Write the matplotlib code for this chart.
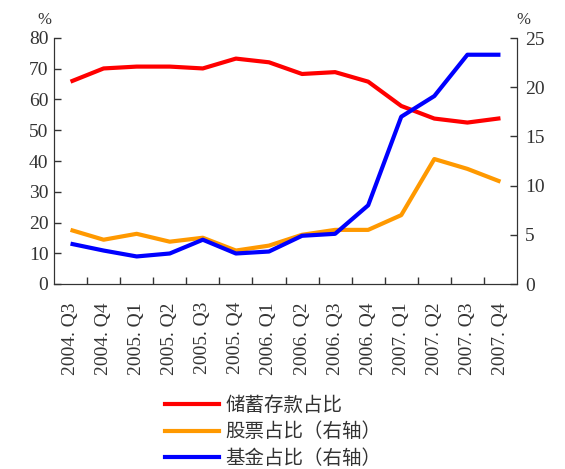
import matplotlib
matplotlib.use("Agg")
import matplotlib.pyplot as plt
from matplotlib.lines import Line2D

quarters = ["2004. Q3", "2004. Q4", "2005. Q1", "2005. Q2", "2005. Q3", "2005. Q4", "2006. Q1",
            "2006. Q2", "2006. Q3", "2006. Q4", "2007. Q1", "2007. Q2", "2007. Q3", "2007. Q4"]
savings = [65.8, 70.1, 70.7, 70.7, 70.1, 73.3, 72.1, 68.3, 68.9, 65.8, 57.9, 53.8, 52.5, 53.9]
stocks = [5.5, 4.5, 5.1, 4.3, 4.7, 3.4, 3.9, 5.0, 5.5, 5.5, 7.0, 12.7, 11.7, 10.4]
funds = [4.1, 3.4, 2.8, 3.1, 4.5, 3.1, 3.3, 4.9, 5.1, 8.0, 17.0, 19.1, 23.3, 23.3]
legend_labels = ["储蓄存款占比", "股票占比（右轴）", "基金占比（右轴）"]

W, H = 565, 469
fig = plt.figure(figsize=(W / 100, H / 100), dpi=100)
ax = fig.add_axes([54 / W, (H - 284) / H, 463 / W, 246 / H])
ax2 = ax.twinx()

num_font = {"family": "Liberation Serif", "size": 14}
x = list(range(len(quarters)))

ax.plot(x, savings, color="#FF0000", lw=3, solid_capstyle="butt")
ax2.plot(x, stocks, color="#FF9900", lw=3, solid_capstyle="butt")
ax2.plot(x, funds, color="#0000FF", lw=3, solid_capstyle="butt")

ax.set_xlim(-0.5, len(quarters) - 0.5)
ax.set_ylim(0, 80)
ax2.set_ylim(0, 25)
ax.set_yticks(range(0, 81, 10))
ax2.set_yticks(range(0, 26, 5))

# ticks sit between the quarters, labels centred on them
ax.set_xticks([i + 0.5 for i in range(len(quarters) - 1)], minor=False)
ax.set_xticklabels([])
ax.set_xticks(x, minor=True)
ax.set_xticklabels(quarters, minor=True, rotation=90, fontdict=num_font)
ax.tick_params(axis="x", which="major", direction="in", length=5, width=1, color="#333333")
ax.tick_params(axis="x", which="minor", length=0, pad=13)

for a in (ax, ax2):
    a.tick_params(axis="y", direction="in", length=5, width=1, color="#333333", labelcolor="#333333")
    for lab in a.get_yticklabels():
        lab.set_fontproperties("Liberation Serif")
        lab.set_fontsize(14)
    a.spines["top"].set_visible(False)
    for s in ("left", "right", "bottom"):
        a.spines[s].set_color("#333333")
ax.tick_params(axis="y", pad=4)
ax2.tick_params(axis="y", pad=6)
for lab in ax.get_xticklabels(minor=True):
    lab.set_color("#333333")

fig.text(44 / W, 1 - 20 / H, "%", ha="center", va="center", fontsize=12,
         family="Liberation Serif", color="#333333")
fig.text(523 / W, 1 - 20 / H, "%", ha="center", va="center", fontsize=12,
         family="Liberation Serif", color="#333333")

handles = [Line2D([], [], color=c, lw=3) for c in ("#FF0000", "#FF9900", "#0000FF")]
fig.legend(handles, legend_labels, loc="upper left", bbox_to_anchor=(165 / W, 1 - 395 / H),
           frameon=False, borderpad=0, borderaxespad=0,
           handlelength=2.8, handletextpad=0.3, labelspacing=0.28,
           prop={"family": ["Noto Sans CJK SC", "DejaVu Sans"], "size": 14},
           labelcolor="#333333")

fig.savefig("out.png", dpi=100)
